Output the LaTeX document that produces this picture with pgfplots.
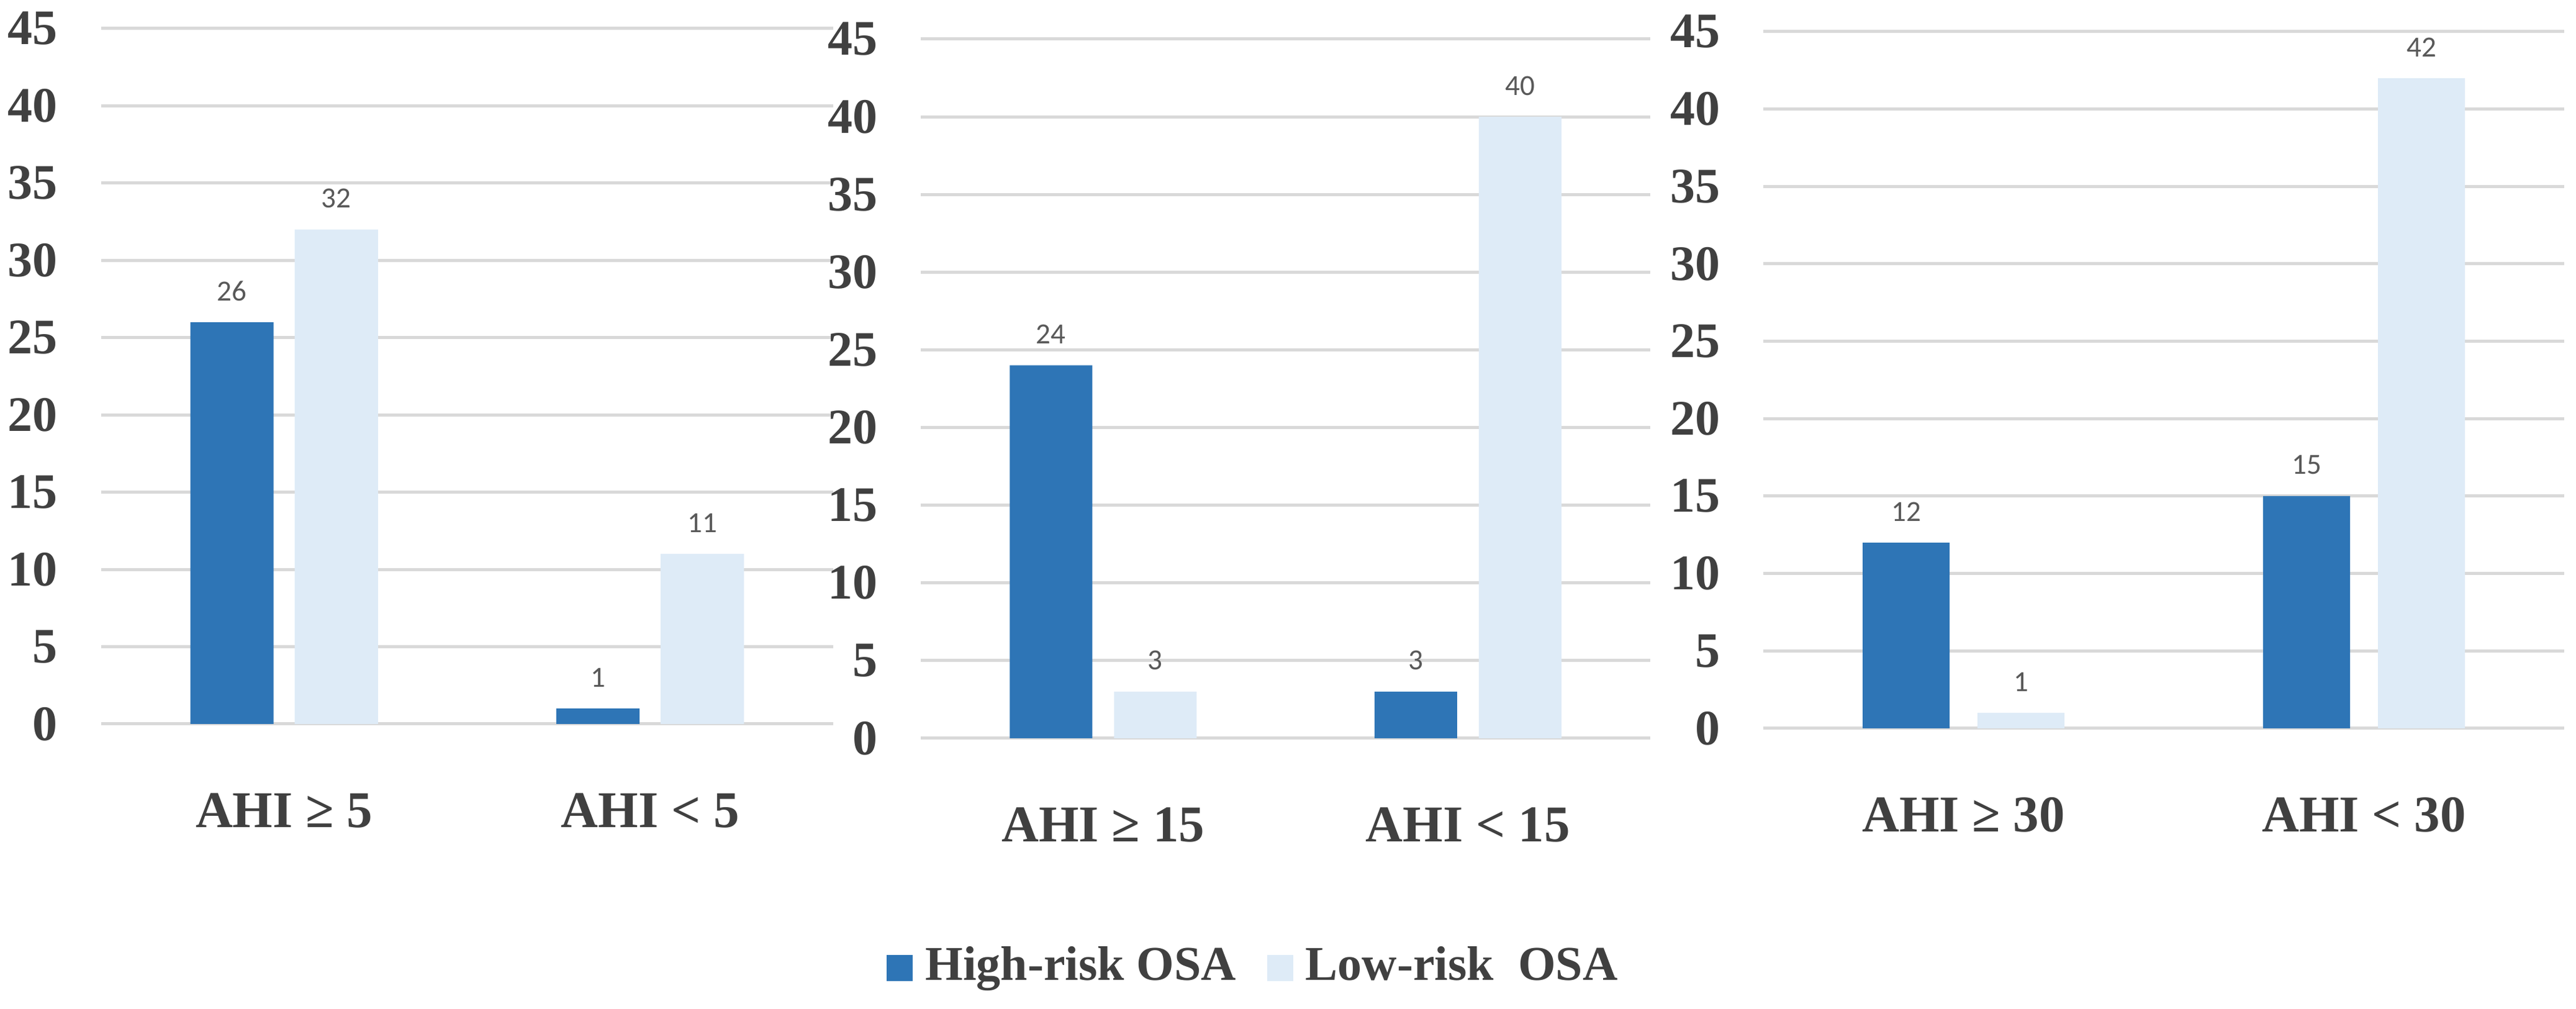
\documentclass[border=0pt]{standalone}
\usepackage{fontspec}
\setmainfont{Liberation Serif}
\newfontfamily\lblfont{Carlito}
\usepackage{pgfplots}
\pgfplotsset{compat=1.18}

\definecolor{highrisk}{HTML}{2E75B6}
\definecolor{lowrisk}{HTML}{DEEBF7}
\definecolor{gridgray}{HTML}{D9D9D9}
\definecolor{txt}{HTML}{404040}
\definecolor{lbl}{HTML}{595959}

\pgfplotsset{
  osa/.style={
    scale only axis,
    anchor=south west,
    ymin=0, ymax=45, ytick={0,5,...,45},
    xmin=-0.5, xmax=1.5, xtick={0,1},
    ymajorgrids,
    grid style={gridgray, line width=0.5pt},
    axis line style={draw=none},
    major tick style={draw=none},
    /pgf/number format/assume math mode=true,
    tick label style={font=\fontsize{8}{9}\selectfont\bfseries, text=txt},
    yticklabel style={inner sep=0pt, anchor=east, xshift=-6.8pt},
    xticklabel style={inner sep=0pt, anchor=center, yshift=-9.7pt,
      font=\fontsize{8.3}{9}\selectfont\bfseries},
    nodes near coords,
    every node near coord/.append style={font=\lblfont\fontsize{4.7}{5}\selectfont,
      text=lbl, anchor=center, inner sep=0pt, yshift=5pt},
    clip=false,
  }
}

\begin{document}
\begin{tikzpicture}
\useasboundingbox (0,0) rectangle (414.9pt,162.5pt);

% AHI 5
\begin{axis}[osa, at={(16.3pt,45.9pt)}, width=117.9pt, height=112.0pt,
  ybar=3.4pt, bar width=13.4pt,
  xticklabels={AHI ≥ 5, AHI < 5}]
\addplot[fill=highrisk, draw=none] coordinates {(0,26) (1,1)};
\addplot[fill=lowrisk, draw=none] coordinates {(0,32) (1,11)};
\end{axis}

% AHI 15 (carries the legend)
\begin{axis}[osa, at={(148.3pt,43.6pt)}, width=117.5pt, height=112.6pt,
  ybar=3.5pt, bar width=13.3pt,
  xticklabels={AHI ≥ 15, AHI < 15},
  legend image code/.code={\fill[#1] (0pt,-2.1pt) rectangle (4.2pt,2.1pt);},
  legend columns=2,
  legend style={at={(0.463,-0.329)}, anchor=center, draw=none, fill=none,
    font=\fontsize{7.8}{9}\selectfont\bfseries, text=txt,
    /tikz/every even column/.append style={column sep=3pt}}]
\addplot[fill=highrisk, draw=none] coordinates {(0,24) (1,3)};
\addplot[fill=lowrisk, draw=none] coordinates {(0,3) (1,40)};
\legend{High-risk OSA, Low-risk\ \ OSA}
\end{axis}

% AHI 30
\begin{axis}[osa, at={(284.0pt,45.2pt)}, width=129pt, height=112.2pt,
  ybar=4.5pt, bar width=14pt,
  xticklabels={AHI ≥ 30, AHI < 30}]
\addplot[fill=highrisk, draw=none] coordinates {(0,12) (1,15)};
\addplot[fill=lowrisk, draw=none] coordinates {(0,1) (1,42)};
\end{axis}
\end{tikzpicture}
\end{document}
